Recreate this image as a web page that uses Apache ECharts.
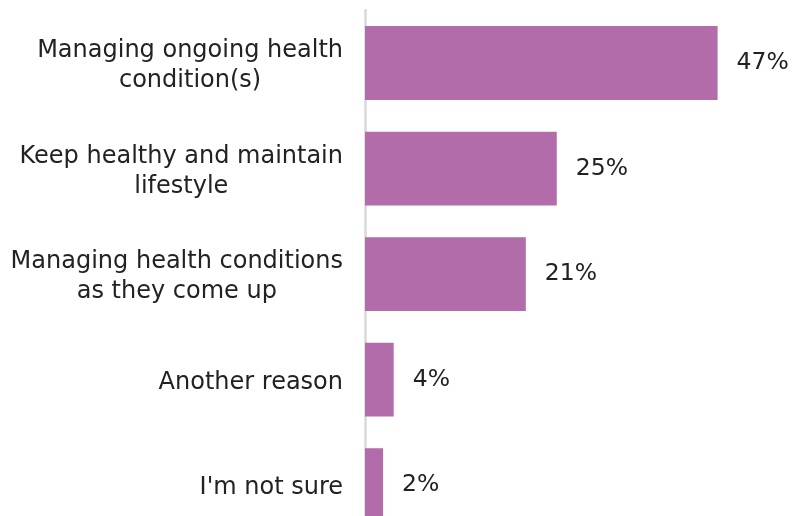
<!DOCTYPE html>
<html>
<head>
<meta charset="utf-8">
<script src="https://cdn.jsdelivr.net/npm/echarts@6/dist/echarts.min.js"></script>
<style>html,body{margin:0;padding:0;background:#fff;overflow:hidden}#c{width:792px;height:538px}</style>
</head>
<body>
<div id="c"></div>
<script>
const categories = [
  "Managing ongoing health\ncondition(s)",
  "Keep healthy and maintain\nlifestyle",
  "Managing health conditions\nas they come up",
  "Another reason",
  "I'm not sure"
];
const values = [46.7, 25.4, 21.3, 3.8, 2.4];
const valueLabels = ["47%", "25%", "21%", "4%", "2%"];

const FONT = 'DejaVu Sans, Liberation Sans, Arial, sans-serif';
const chart = echarts.init(document.getElementById('c'), null, {renderer: 'canvas'});
chart.setOption({
  animation: false,
  backgroundColor: '#ffffff',
  grid: {left: 365, right: 49.5, top: 10.25, bottom: 0, containLabel: false},
  xAxis: {
    type: 'value', min: 0, max: 50, show: false
  },
  yAxis: {
    type: 'category',
    inverse: true,
    data: categories,
    axisLine: {show: true, lineStyle: {color: '#d9d9d9', width: 2.5}},
    axisTick: {show: false},
    splitLine: {show: false},
    axisLabel: {
      margin: 22,
      align: 'right',
      padding: [6, 0, 0, 0],
      color: '#222222',
      fontFamily: FONT,
      fontSize: 24,
      lineHeight: 30,
      formatter: function (v) {
        return v.split('\n').map(function (s) { return '{c|' + s + '}'; }).join('\n');
      },
      rich: {
        c: {align: 'center', color: '#222222', fontFamily: FONT, fontSize: 24, lineHeight: 30}
      }
    }
  },
  series: [{
    type: 'bar',
    data: values,
    barCategoryGap: '30%',
    itemStyle: {color: '#b16ca9'},
    label: {
      show: true,
      position: 'right',
      distance: 19,
      color: '#222222',
      fontFamily: FONT,
      fontSize: 23.5,
      formatter: function (p) { return valueLabels[p.dataIndex]; }
    }
  }]
});
</script>
</body>
</html>
